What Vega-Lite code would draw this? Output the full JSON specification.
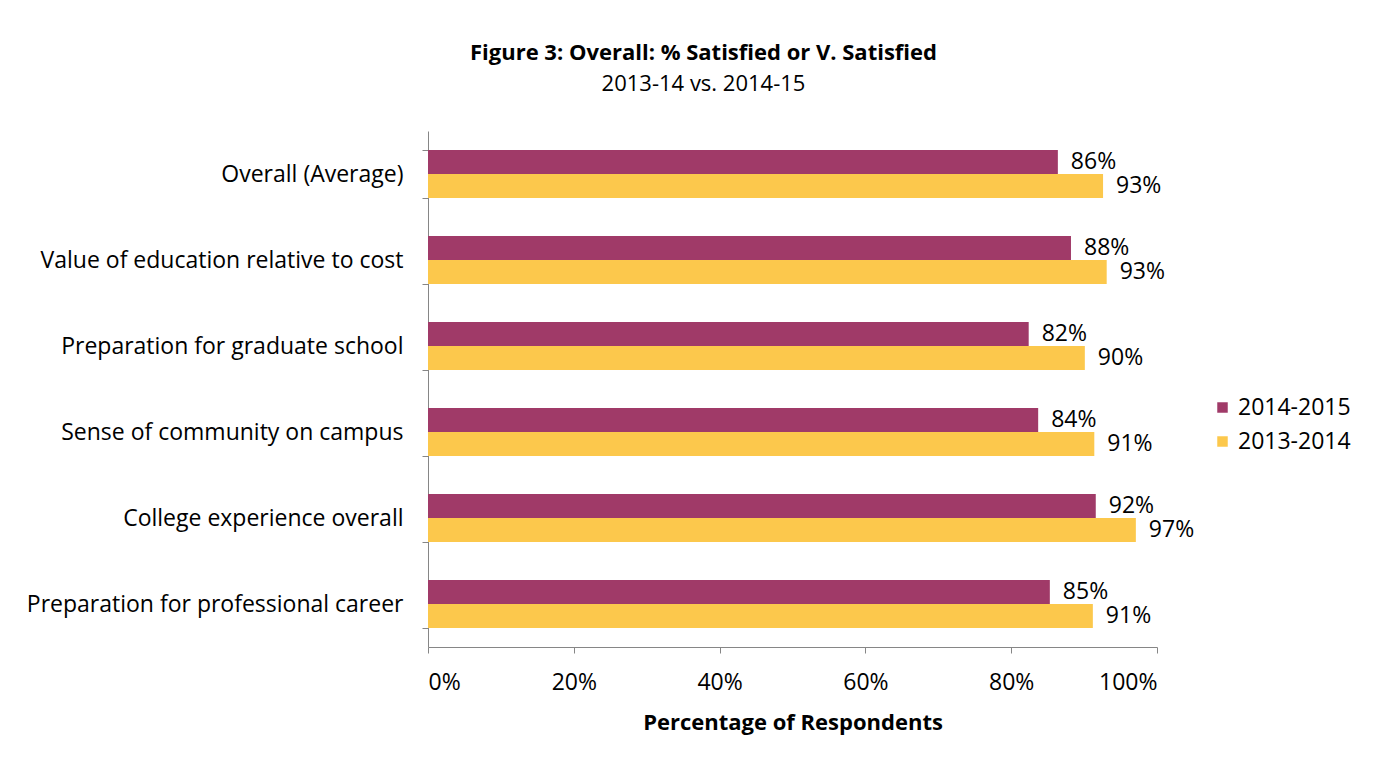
{
  "$schema": "https://vega.github.io/schema/vega-lite/v6.json",
  "autosize": {"type": "none"},
  "width": 729,
  "height": 516,
  "padding": {"left": 428, "top": 131, "right": 219, "bottom": 118},
  "background": "white",
  "config": {
    "font": "Open Sans",
    "view": {"stroke": null},
    "axis": {"grid": false, "domainColor": "#868686", "tickColor": "#868686", "labelColor": "black", "labelFontSize": 23, "labelFont": "Open Sans", "titleFont": "Open Sans"}
  },
  "title": {
    "text": "Figure 3: Overall: % Satisfied or V. Satisfied",
    "subtitle": "2013-14 vs. 2014-15",
    "anchor": "middle",
    "frame": "group",
    "dx": -89,
    "offset": 24,
    "fontSize": 22,
    "fontWeight": "bold",
    "font": "Open Sans",
    "color": "black",
    "subtitleFontSize": 22,
    "subtitleFont": "Open Sans",
    "subtitleColor": "black",
    "subtitlePadding": 9
  },
  "data": {
    "values": [
      {"item": "Overall (Average)", "year": "2014-2015", "value": 0.864},
      {"item": "Overall (Average)", "year": "2013-2014", "value": 0.926},
      {"item": "Value of education relative to cost", "year": "2014-2015", "value": 0.882},
      {"item": "Value of education relative to cost", "year": "2013-2014", "value": 0.931},
      {"item": "Preparation for graduate school", "year": "2014-2015", "value": 0.824},
      {"item": "Preparation for graduate school", "year": "2013-2014", "value": 0.901},
      {"item": "Sense of community on campus", "year": "2014-2015", "value": 0.837},
      {"item": "Sense of community on campus", "year": "2013-2014", "value": 0.914},
      {"item": "College experience overall", "year": "2014-2015", "value": 0.916},
      {"item": "College experience overall", "year": "2013-2014", "value": 0.971},
      {"item": "Preparation for professional career", "year": "2014-2015", "value": 0.853},
      {"item": "Preparation for professional career", "year": "2013-2014", "value": 0.912}
    ]
  },
  "encoding": {
    "y": {
      "field": "item",
      "type": "nominal",
      "sort": null,
      "scale": {"paddingInner": 0.44, "paddingOuter": 0.22},
      "axis": {"title": null, "tickBand": "extent", "tickSize": 6, "labelPadding": 19, "labelLimit": 500}
    },
    "yOffset": {
      "field": "year",
      "type": "nominal",
      "sort": ["2014-2015", "2013-2014"],
      "scale": {"paddingInner": 0, "paddingOuter": 0}
    },
    "x": {
      "field": "value",
      "type": "quantitative",
      "scale": {"domain": [0, 1], "nice": false},
      "axis": {"format": ".0%", "values": [0, 0.2, 0.4, 0.6, 0.8, 1], "tickSize": 6, "labelPadding": 18, "title": "Percentage of Respondents", "titleFontSize": 22, "titleFontWeight": "bold", "titleColor": "black", "titlePadding": 18}
    }
  },
  "layer": [
    {
      "mark": {"type": "bar"},
      "encoding": {
        "color": {
          "field": "year",
          "type": "nominal",
          "sort": ["2014-2015", "2013-2014"],
          "scale": {"domain": ["2014-2015", "2013-2014"], "range": ["#a03a68", "#fcc84c"]},
          "legend": {
            "title": null,
            "orient": "none",
            "legendX": 783,
            "legendY": 265,
            "symbolType": "square",
            "symbolSize": 110,
            "symbolStrokeWidth": 0,
            "labelFontSize": 23,
            "labelFont": "Open Sans",
            "labelColor": "black",
            "rowPadding": 10,
            "labelOffset": 4
          }
        }
      }
    },
    {
      "mark": {"type": "text", "align": "left", "baseline": "middle", "dx": 13, "fontSize": 23, "font": "Open Sans", "color": "black"},
      "encoding": {
        "text": {"field": "value", "type": "quantitative", "format": ".0%"}
      }
    }
  ]
}
